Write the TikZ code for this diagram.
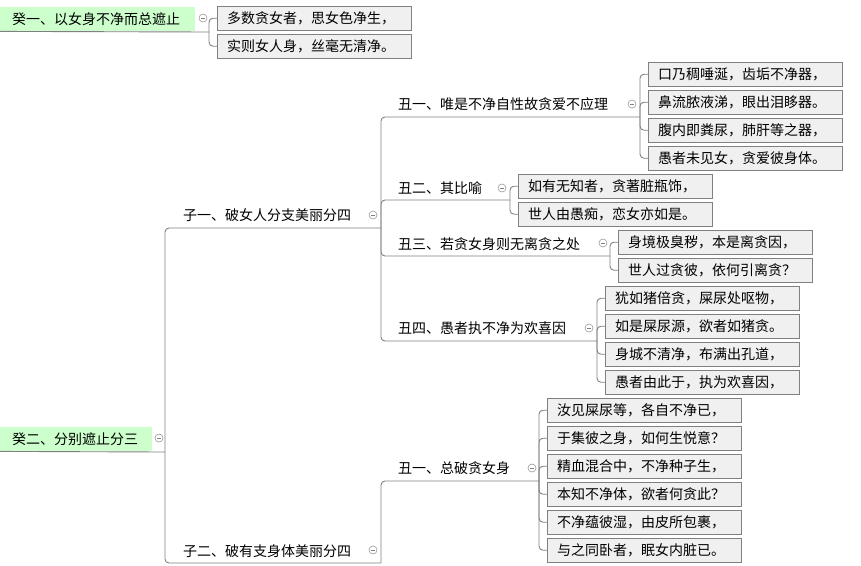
\documentclass[tikz,border=0pt]{standalone}
\usepackage{fontspec}
\setmainfont{Noto Sans CJK SC}
\definecolor{rootgreen}{RGB}{204,255,204}
\definecolor{leafgray}{RGB}{240,240,240}
\definecolor{linegray}{RGB}{128,128,128}
\begin{document}
\begin{tikzpicture}[x=1pt,y=-1pt,every node/.style={black,font=\fontsize{14pt}{16pt}\selectfont},
	root/.style={fill=rootgreen,anchor=north west,minimum height=24pt,inner xsep=12pt,inner ysep=0pt,align=left},
	topic/.style={anchor=west,inner sep=0pt},
	leaf/.style={draw=linegray,fill=leafgray,anchor=north west,minimum height=24pt,text width=174pt,inner xsep=10pt,inner ysep=0pt,align=left},
	link/.style={draw=linegray,line width=0.9pt,rounded corners=4pt},
	fold/.style={circle,draw=linegray!80,minimum size=8pt,inner sep=0pt,line width=0.6pt,
		path picture={\draw[linegray,line width=0.6pt] ([xshift=-2pt]path picture bounding box.center) -- ([xshift=2pt]path picture bounding box.center);}}]
	\useasboundingbox (0,0) rectangle (861,565);
	% roots
	\node[root,text width=171pt] (r1) at (0,7) {癸一、以女身不净而总遮止};
	\node[root,text width=128pt] (r2) at (0,427) {癸二、分别遮止分三};
	\coordinate (r1e) at (209,32);
	\coordinate (r2e) at (165,452);
	\draw[link] (r1.south west) -- (r1e);
	\draw[link] (r2.south west) -- (r2e);
	\node[fold] (f1) at (203,18) {};
	\node[fold] (f2) at (159,438) {};
	% second level
	\node[topic] (z1) at (183,215) {子一、破女人分支美丽分四};
	\node[topic] (z2) at (183,551) {子二、破有支身体美丽分四};
	\coordinate (z1e) at (381,228);
	\coordinate (z2e) at (381,563);
	\draw[link] (r2e) |- (z1e);
	\draw[link] (r2e) |- (z2e);
	\node[fold] (f3) at (373,215) {};
	\node[fold] (f4) at (373,550) {};
	% third level
	\node[topic] (c1) at (398,104) {丑一、唯是不净自性故贪爱不应理};
	\node[topic] (c2) at (398,188) {丑二、其比喻};
	\node[topic] (c3) at (398,244) {丑三、若贪女身则无离贪之处};
	\node[topic] (c4) at (398,328) {丑四、愚者执不净为欢喜因};
	\node[topic] (d1) at (398,468) {丑一、总破贪女身};
	\coordinate (c1e) at (640,117);
	\coordinate (c2e) at (510,200);
	\coordinate (c3e) at (610,256);
	\coordinate (c4e) at (597,341);
	\coordinate (d1e) at (539,481);
	\foreach \c in {c1e,c2e,c3e,c4e} \draw[link] (z1e) |- (\c);
	\draw[link] (z2e) |- (d1e);
	\node[fold] (f5) at (632,104) {};
	\node[fold] (f6) at (502,188) {};
	\node[fold] (f7) at (603,243) {};
	\node[fold] (f8) at (589,328) {};
	\node[fold] (f9) at (532,468) {};
	% leaves
	\foreach \t [count=\i] in {{多数贪女者，思女色净生，},{实则女人身，丝毫无清净。}}{
		\node[leaf] (r1l\i) at (217,{28*\i-22}) {\t};
		\draw[link] (r1e) |- (r1l\i.west);
	}
	\foreach \t [count=\i] in {{口乃稠唾涎，齿垢不净器，},{鼻流脓液涕，眼出泪眵器。},{腹内即粪尿，肺肝等之器，},{愚者未见女，贪爱彼身体。}}{
		\node[leaf] (c1l\i) at (648,{28*\i+34}) {\t};
		\draw[link] (c1e) |- (c1l\i.west);
	}
	\foreach \t [count=\i] in {{如有无知者，贪著脏瓶饰，},{世人由愚痴，恋女亦如是。}}{
		\node[leaf] (c2l\i) at (518,{28*\i+146}) {\t};
		\draw[link] (c2e) |- (c2l\i.west);
	}
	\foreach \t [count=\i] in {{身境极臭秽，本是离贪因，},{世人过贪彼，依何引离贪？}}{
		\node[leaf] (c3l\i) at (618,{28*\i+202}) {\t};
		\draw[link] (c3e) |- (c3l\i.west);
	}
	\foreach \t [count=\i] in {{犹如猪倍贪，屎尿处呕物，},{如是屎尿源，欲者如猪贪。},{身城不清净，布满出孔道，},{愚者由此于，执为欢喜因，}}{
		\node[leaf] (c4l\i) at (605,{28*\i+258}) {\t};
		\draw[link] (c4e) |- (c4l\i.west);
	}
	\foreach \t [count=\i] in {{汝见屎尿等，各自不净已，},{于集彼之身，如何生悦意？},{精血混合中，不净种子生，},{本知不净体，欲者何贪此？},{不净蕴彼湿，由皮所包裹，},{与之同卧者，眠女内脏已。}}{
		\node[leaf] (d1l\i) at (547,{28*\i+370}) {\t};
		\draw[link] (d1e) |- (d1l\i.west);
	}
\end{tikzpicture}
\end{document}
